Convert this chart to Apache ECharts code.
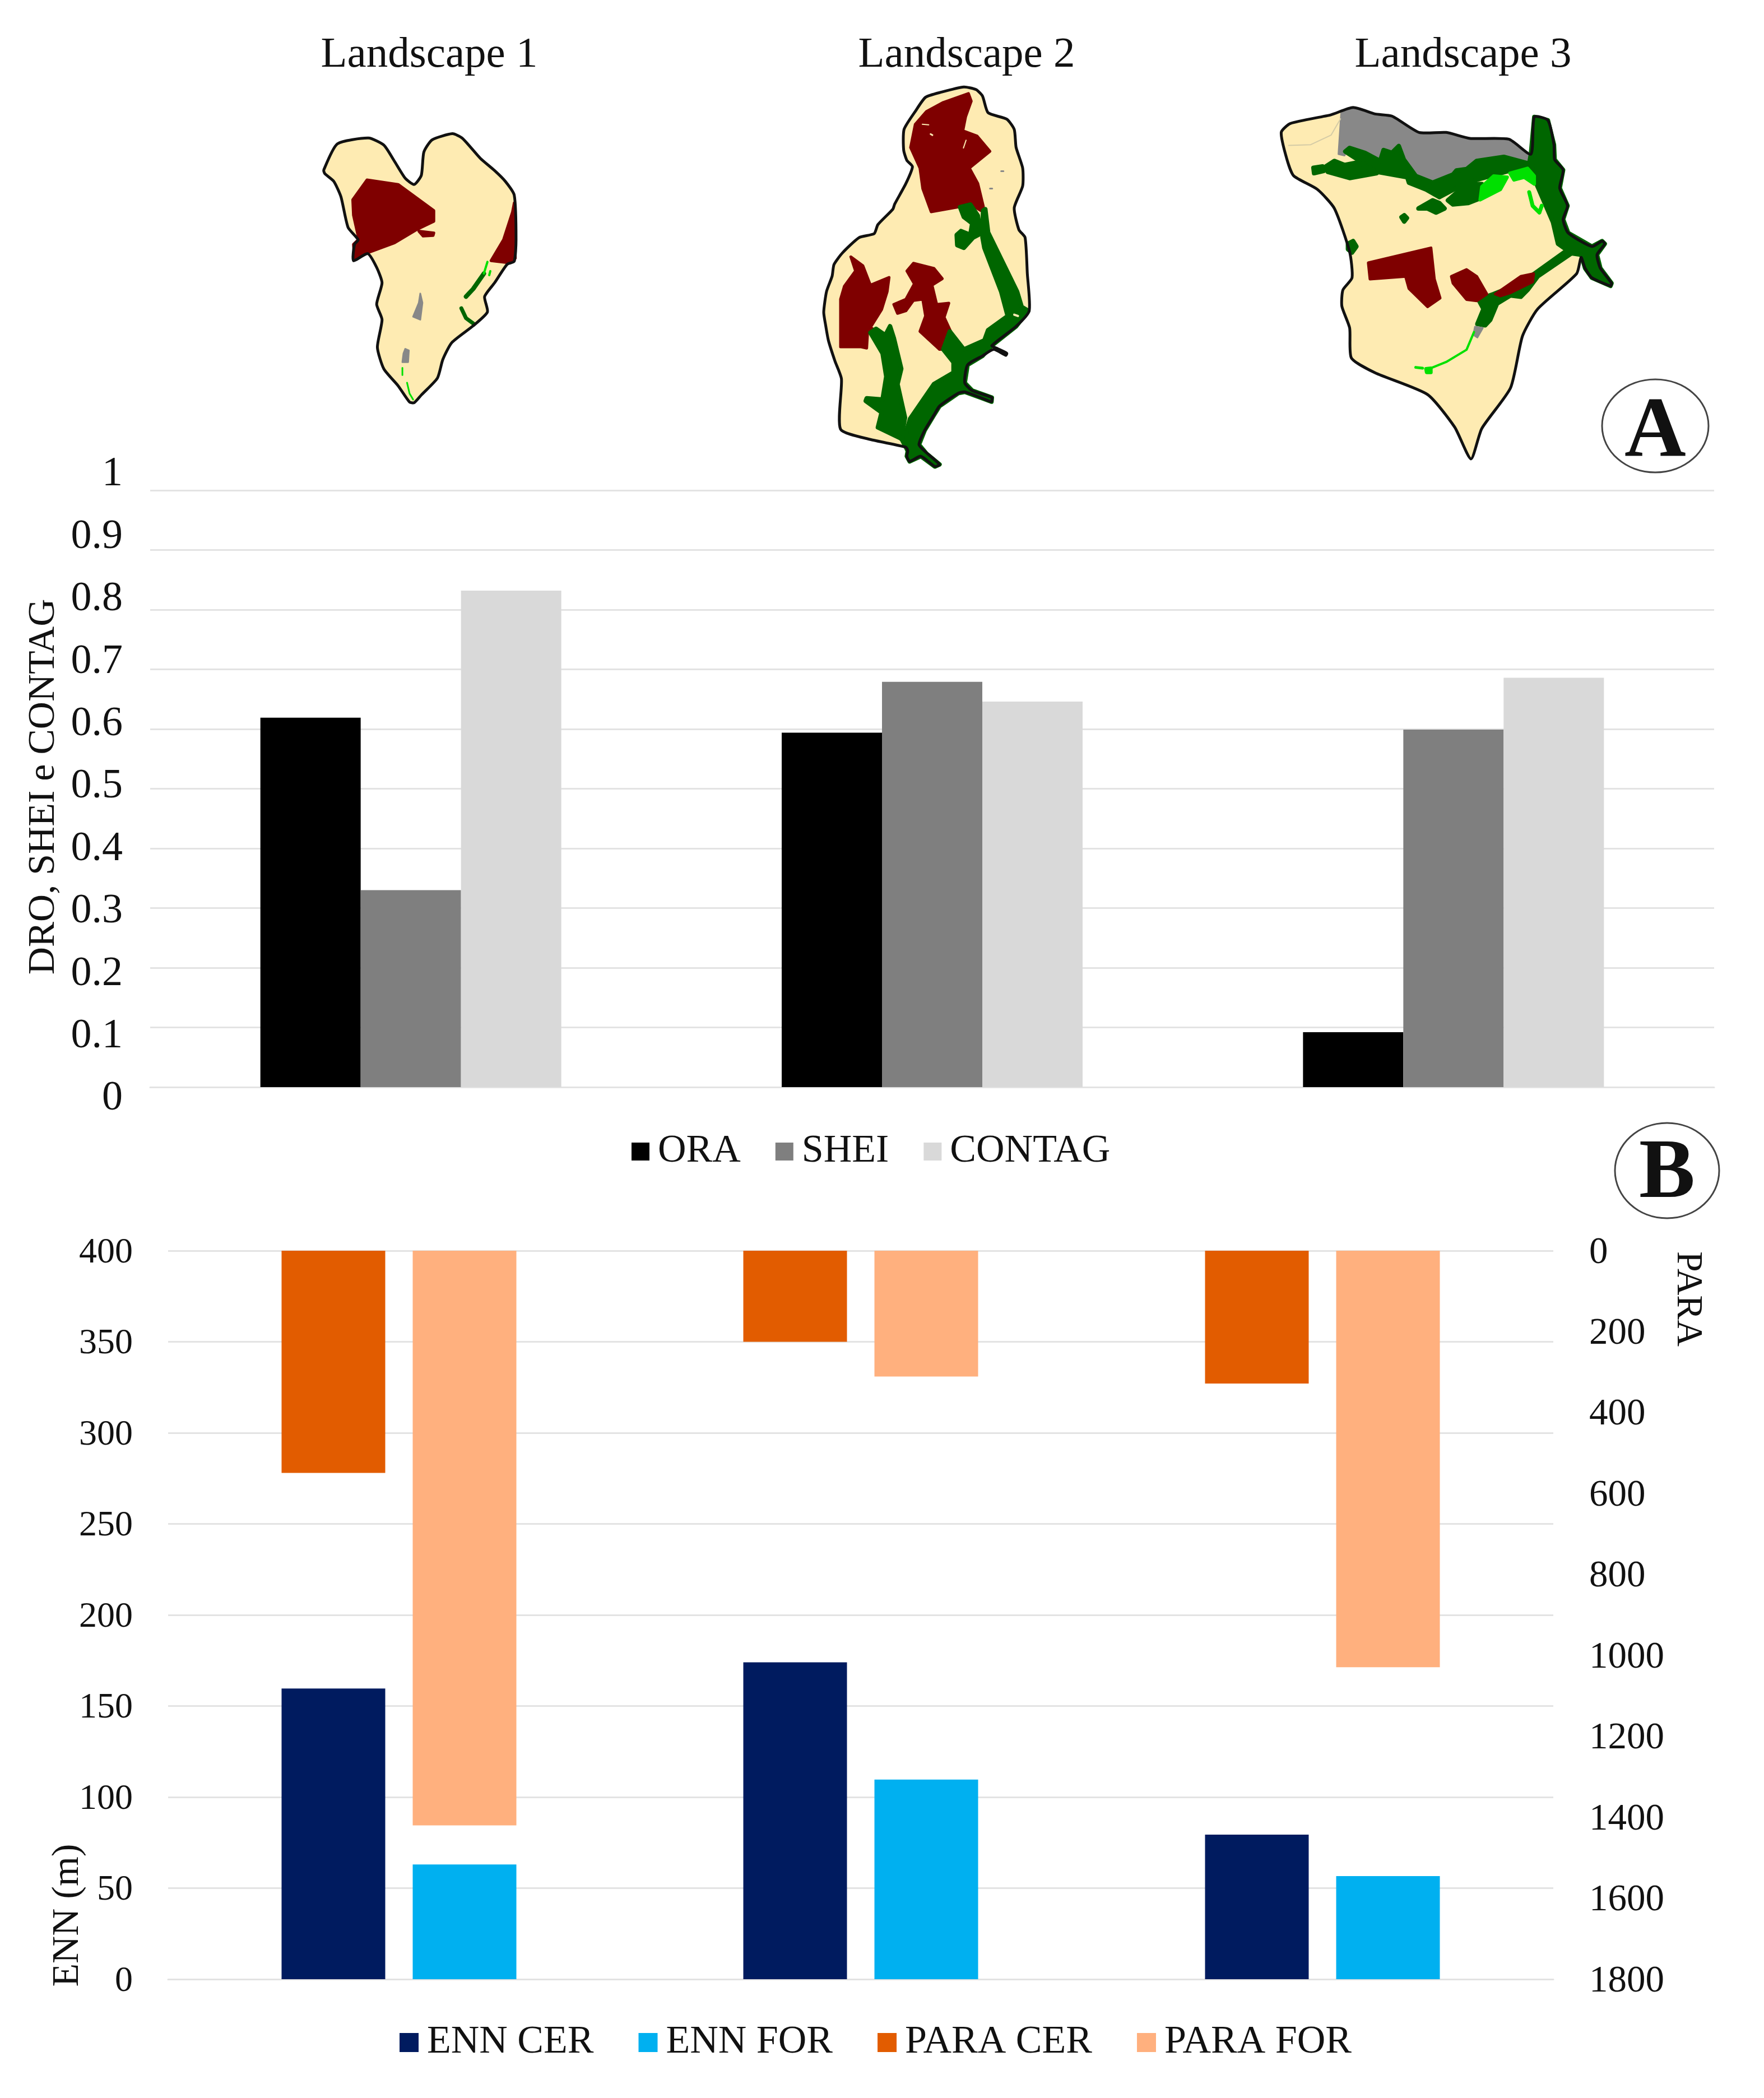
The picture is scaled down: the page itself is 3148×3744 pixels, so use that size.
<!DOCTYPE html>
<html><head><meta charset="utf-8">
<style>html,body{margin:0;padding:0;background:#fff}#c{width:3148px;height:3744px}</style>
<script src="https://cdn.jsdelivr.net/npm/echarts@6/dist/echarts.min.js"></script>
</head><body><div id="c"></div>
<script>
const landscapes = ['Landscape 1', 'Landscape 2', 'Landscape 3'];
const ORA = [0.619, 0.594, 0.092];
const SHEI = [0.33, 0.679, 0.599];
const CONTAG = [0.832, 0.646, 0.686];
const ENN_CER = [159.6, 174, 79.4];
const ENN_FOR = [63, 109.6, 56.6];
const PARA_CER = [549, 225, 328];
const PARA_FOR = [1420, 311, 1029];

const SERIF = '"Liberation Serif","Times New Roman",serif';
const TXT = '#111';
const GRID = '#E3E3E3';
const CREAM = '#FEEBB2', RED = '#7F0000', GREEN = '#006600', LIME = '#00E000', GRAY = '#888888';

// ---- illustrated maps: outlines (not data) ----
const map1 = {ox:500, oy:0, sx:1/1.568, sy:1/1.823,
  outline:[[122,553],[160,468],[247,449],[290,472],[320,525],[350,580],[375,600],[395,570],[402,495],[425,455],[482,435],[510,450],[560,515],[600,555],[630,590],[655,635],[660,780],[655,850],[635,860],[600,920],[572,965],[580,1015],[540,1060],[480,1115],[455,1170],[440,1230],[395,1285],[375,1310],[362,1308],[330,1255],[290,1200],[272,1130],[285,1040],[270,990],[285,920],[270,870],[245,825],[205,848],[208,795],[218,780],[190,740],[170,640],[150,590],[125,565]],
  patches:[
    [RED,[[243,585],[330,600],[430,685],[430,720],[385,745],[320,790],[250,820],[208,845],[205,795],[220,778],[205,700],[203,650]]],
    [RED,[[388,752],[430,758],[428,766],[400,768]]],
    [RED,[[655,660],[658,840],[640,855],[590,848],[625,780],[650,690]]],
    [GRAY,[[392,955],[398,985],[392,1040],[372,1030],[388,985]]],
    [GRAY,[[350,1135],[360,1140],[358,1178],[342,1178],[345,1150]]]
  ],
  lines:[
    [GREEN,8,[[520,965],[540,940],[570,890]]],
    [GREEN,7,[[507,1003],[520,1035],[540,1052]]],
    [LIME,4,[[580,852],[570,890]]],
    [LIME,4,[[588,882],[585,895]]],
    [LIME,3,[[342,1197],[342,1220]]],
    [LIME,3,[[355,1245],[362,1280],[372,1300]]]
  ]};
const map2 = {ox:1420, oy:130, sx:1/3, sy:1/2.178,
  outline:[[150,930],[165,850],[195,790],[205,745],[250,700],[340,640],[420,625],[440,590],[520,530],[530,510],[590,430],[625,365],[595,340],[578,300],[580,220],[640,150],[695,95],[780,75],[900,55],[965,65],[1000,90],[1030,155],[1130,180],[1170,220],[1180,290],[1215,370],[1215,440],[1170,525],[1195,610],[1228,640],[1240,780],[1250,925],[1180,985],[1050,1060],[1075,1070],[1130,1090],[1125,1098],[1060,1075],[1000,1100],[920,1135],[905,1205],[945,1235],[1050,1262],[1048,1278],[1000,1265],[905,1240],[870,1245],[770,1295],[740,1330],[690,1390],[660,1445],[690,1470],[770,1522],[745,1530],[670,1490],[610,1510],[595,1490],[600,1470],[590,1455],[400,1425],[240,1385],[245,1190],[210,1120],[175,1040],[160,980]],
  patches:[
    [RED,[[925,80],[940,110],[910,170],[895,225],[970,245],[1040,305],[930,370],[975,430],[1005,520],[990,535],[935,510],[880,520],[725,540],[680,450],[665,370],[615,290],[640,200],[700,150],[790,115]]],
    [RED,[[295,715],[360,750],[400,825],[500,795],[490,850],[460,920],[400,990],[425,1000],[385,1010],[380,1070],[350,1065],[240,1065],[240,880],[260,830],[320,770]]],
    [RED,[[595,770],[630,740],[740,760],[785,800],[730,825],[755,900],[820,895],[795,950],[830,1005],[800,1075],[770,1075],[665,1005],[695,945],[680,880],[630,885],[590,925],[545,935],[525,900],[590,880],[635,820]]],
    [GREEN,[[880,522],[935,512],[975,555],[990,625],[950,640],[900,680],[865,670],[862,630],[885,615],[935,630],[945,585],[900,560]]],
    [GREEN,[[1003,535],[1015,530],[1030,620],[1185,850],[1210,910],[1245,925],[1180,985],[1050,1060],[1000,1100],[920,1135],[905,1205],[945,1235],[1050,1262],[1048,1278],[1000,1265],[905,1240],[870,1245],[770,1295],[740,1330],[690,1390],[660,1445],[700,1480],[770,1522],[745,1530],[670,1490],[610,1510],[595,1490],[600,1470],[590,1455],[565,1420],[590,1400],[612,1345],[740,1210],[845,1165],[845,1125],[790,1075],[825,1005],[900,1075],[1010,1040],[1030,1000],[1135,945],[1100,850],[1010,680],[1000,640]]],
    [GREEN,[[400,1010],[430,995],[480,1020],[505,985],[525,1030],[565,1150],[545,1210],[585,1340],[570,1400],[590,1400],[605,1440],[560,1420],[440,1378],[460,1320],[375,1275],[380,1265],[465,1270],[485,1180],[465,1090]]]
  ],
  lines:[
    [CREAM,2,[[678,200],[712,202]]],
    [CREAM,3,[[722,238],[732,242]]],
    [CREAM,2,[[898,292],[912,262]]],
    [CREAM,4,[[1170,940],[1190,945]]],
    [GRAY,3,[[1100,382],[1112,382]]],
    [GRAY,3,[[1040,450],[1052,450]]]
  ]};
const map3 = {ox:2200, oy:120, sx:1/1.654, sy:1/2.063,
  outline:[[143,240],[170,207],[290,175],[355,148],[420,172],[470,180],[550,240],[630,240],[700,262],[815,265],[880,320],[890,183],[930,195],[948,285],[950,340],[975,378],[965,445],[988,510],[975,560],[990,610],[1060,660],[1090,640],[1098,650],[1075,690],[1085,740],[1118,795],[1115,805],[1060,775],[1040,740],[1028,700],[1015,760],[900,890],[855,990],[820,1180],[735,1330],[703,1442],[655,1325],[575,1205],[420,1125],[350,1070],[345,960],[322,880],[325,820],[352,775],[345,680],[300,520],[250,450],[180,400],[160,340]],
  patches:[
    [GRAY,[[320,170],[355,150],[420,172],[470,182],[550,240],[630,240],[700,262],[815,265],[880,322],[875,355],[800,330],[720,345],[690,375],[660,380],[650,395],[590,425],[540,400],[505,340],[490,290],[470,315],[440,345],[380,315],[340,295],[330,325],[312,320]]],
    [GREEN,[[890,183],[930,195],[948,285],[950,340],[975,378],[965,445],[988,510],[975,560],[990,610],[1060,660],[1090,640],[1098,650],[1075,690],[1085,740],[1118,795],[1115,805],[1060,775],[1040,740],[1028,690],[1000,685],[960,650],[945,570],[900,440],[880,375],[880,320]]],
    [GREEN,[[880,320],[875,355],[800,330],[720,345],[690,375],[660,380],[650,395],[590,425],[540,400],[505,340],[490,290],[470,315],[445,305],[435,345],[390,315],[345,297],[332,310],[425,385],[515,405],[520,425],[570,450],[610,478],[690,425],[820,380],[885,375]]],
    [GREEN,[[238,370],[265,365],[268,382],[240,390]]],
    [GREEN,[[275,365],[300,345],[330,360],[370,350],[425,390],[345,408],[280,385]]],
    [GREEN,[[635,490],[690,430],[735,430],[735,480],[695,500],[650,505]]],
    [GREEN,[[548,520],[590,490],[610,500],[625,520],[600,535],[575,520]]],
    [GREEN,[[498,552],[506,545],[514,555],[506,568]]],
    [GREEN,[[340,650],[355,640],[365,660],[352,682],[340,670]]],
    [LIME,[[735,440],[770,400],[810,405],[790,450],[730,488]]],
    [LIME,[[818,390],[870,372],[890,400],[890,430],[860,405],[830,415]]],
    [GREEN,[[1000,685],[900,770],[870,820],[850,845],[820,840],[780,870],[760,930],[745,950],[722,945],[740,890],[725,855],[770,835],[860,790],[890,760],[980,680]]],
    [RED,[[400,720],[585,665],[595,780],[612,850],[575,882],[520,815],[510,770],[405,780]]],
    [RED,[[645,770],[690,745],[720,770],[750,835],[720,860],[690,855],[650,795]]],
    [RED,[[775,835],[850,770],[888,760],[885,790],[820,830],[790,842]]],
    [GRAY,[[715,955],[738,960],[722,995],[710,985]]],
    [LIME,[[570,1110],[585,1108],[585,1124],[572,1124]]]
  ],
  lines:[
    ['#D4CBA6',2,[[318,190],[290,250],[230,285],[165,288]]],
    [LIME,7,[[875,460],[885,510],[905,535],[912,510]]],
    [LIME,4,[[712,975],[690,1040],[630,1085],[580,1110]]],
    [LIME,5,[[540,1105],[560,1108]]]
  ]};

const patchEdge = c => c === GREEN ? 8 : c === LIME ? 6 : c === RED ? 5 : 3;
function drawMap(m){
  const t = pts => pts.map(p => [m.ox + p[0]*m.sx, m.oy + p[1]*m.sy]);
  const out = [{type:'polygon', shape:{points:t(m.outline), smooth:0.2}, style:{fill:CREAM}}];
  m.patches.forEach(p => out.push({type:'polygon', shape:{points:t(p[1])},
    style:{fill:p[0], stroke:p[0], lineWidth:patchEdge(p[0]), lineJoin:'round'}}));
  m.lines.forEach(l => out.push({type:'polyline', shape:{points:t(l[2])}, style:{stroke:l[0], lineWidth:l[1], fill:'none', lineCap:'round', lineJoin:'round'}}));
  out.push({type:'polygon', shape:{points:t(m.outline), smooth:0.2}, style:{fill:'none', stroke:'#111', lineWidth:5, lineJoin:'round'}});
  return out;
}
function txt(text, x, y, size, opts){
  return Object.assign({type:'text', x, y, style:{text, fill:TXT, align:'center', verticalAlign:'middle',
    font:(opts&&opts.bold?'bold ':'')+size+'px '+SERIF}}, opts&&opts.rotation!==undefined?{rotation:opts.rotation}:{});
}
const badge = (cx, cy, rx, ry, letter, size, dy) => [
  {type:'ellipse', shape:{cx, cy, rx, ry}, style:{fill:'none', stroke:'#444', lineWidth:3}},
  txt(letter, cx, cy+dy, size, {bold:true})
];
const titleX = [766, 1725, 2611];

const graphic = [].concat(
  landscapes.map((n,i) => txt(n, titleX[i], 99, 77)),
  drawMap(map1), drawMap(map2), drawMap(map3),
  badge(2954, 760, 95, 83, 'A', 152, 14),
  badge(2975, 2089, 93, 85, 'B', 150, 8),
  [txt('ENN (m)', 121, 3418, 68, {rotation:Math.PI/2}),
   txt('PARA', 3011, 2318, 66, {rotation:-Math.PI/2}),
   txt('DRO, SHEI e CONTAG', 78, 1404, 68, {rotation:Math.PI/2})]
);

const gridLine = {lineStyle:{color:GRID, width:3}};
const labelA = {color:TXT, fontFamily:SERIF, fontSize:74};
const labelB = {color:TXT, fontFamily:SERIF, formatter:v=>String(v)};
const hiddenX = gi => ({type:'category', gridIndex:gi, data:landscapes, show:false});
const bare = {axisLine:{show:false}, axisTick:{show:false}, splitLine:{show:false}};

const option = {
  backgroundColor:'#fff',
  animation:false,
  graphic:{elements:graphic},
  grid:[
    {left:268, top:875, width:2791, height:1065},
    {left:268, top:847, width:2791, height:1114},
    {left:300, top:2232, width:2472, height:1300},
    {left:300, top:2236, width:2472, height:1300}
  ],
  xAxis:[
    {type:'category', gridIndex:0, data:landscapes, axisTick:{show:false}, axisLabel:{show:false}, axisLine:{show:true, lineStyle:{color:GRID, width:3}}},
    hiddenX(1),
    {type:'category', gridIndex:2, data:landscapes, axisTick:{show:false}, axisLabel:{show:false}, axisLine:{show:true, lineStyle:{color:GRID, width:3}}},
    hiddenX(2),
    hiddenX(3)
  ],
  yAxis:[
    {type:'value', gridIndex:0, min:0, max:1, interval:0.1, axisLabel:{show:false}, axisLine:{show:false}, axisTick:{show:false}, splitLine:gridLine},
    Object.assign({type:'value', gridIndex:1, min:0, max:1, interval:0.1, axisLabel:Object.assign({margin:49}, labelA)}, bare),
    {type:'value', gridIndex:2, min:0, max:400, interval:50, axisLabel:{show:false}, axisLine:{show:false}, axisTick:{show:false}, splitLine:gridLine},
    Object.assign({type:'value', gridIndex:2, min:0, max:1800, interval:200, inverse:true, position:'right', axisLabel:{show:false}}, bare),
    Object.assign({type:'value', gridIndex:3, min:0, max:400, interval:50, axisLabel:Object.assign({margin:63, fontSize:64}, labelB)}, bare),
    Object.assign({type:'value', gridIndex:3, min:0, max:1800, interval:200, inverse:true, position:'right', axisLabel:Object.assign({margin:64, fontSize:67}, labelB)}, bare)
  ],
  legend:[
    {left:1122, top:2015, itemWidth:32, itemHeight:32, itemGap:62, data:['ORA','SHEI','CONTAG'], icon:'rect',
     textStyle:{color:TXT, fontFamily:SERIF, fontSize:70, padding:[0,0,0,10]}},
    {left:708, top:3605, itemWidth:34, itemHeight:34, itemGap:80, data:['ENN CER','ENN FOR','PARA CER','PARA FOR'], icon:'rect',
     textStyle:{color:TXT, fontFamily:SERIF, fontSize:70, padding:[0,0,0,10]}}
  ],
  series:[
    {name:'ORA', type:'bar', xAxisIndex:0, yAxisIndex:0, data:ORA, barWidth:179, barGap:0, itemStyle:{color:'#000000'}},
    {name:'SHEI', type:'bar', xAxisIndex:0, yAxisIndex:0, data:SHEI, barWidth:179, barGap:0, itemStyle:{color:'#7F7F7F'}},
    {name:'CONTAG', type:'bar', xAxisIndex:0, yAxisIndex:0, data:CONTAG, barWidth:179, barGap:0, itemStyle:{color:'#D9D9D9'}},
    {name:'ENN CER', type:'bar', xAxisIndex:2, yAxisIndex:2, data:ENN_CER, barWidth:185, barGap:'26.5%', itemStyle:{color:'#001B5F'}},
    {name:'ENN FOR', type:'bar', xAxisIndex:2, yAxisIndex:2, data:ENN_FOR, barWidth:185, barGap:'26.5%', itemStyle:{color:'#00B0F0'}},
    {name:'PARA CER', type:'bar', xAxisIndex:3, yAxisIndex:3, data:PARA_CER, barWidth:185, barGap:'26.5%', itemStyle:{color:'#E25C00'}},
    {name:'PARA FOR', type:'bar', xAxisIndex:3, yAxisIndex:3, data:PARA_FOR, barWidth:185, barGap:'26.5%', itemStyle:{color:'#FFB07E'}}
  ]
};
echarts.init(document.getElementById('c'), null, {renderer:'canvas'}).setOption(option);
</script></body></html>
